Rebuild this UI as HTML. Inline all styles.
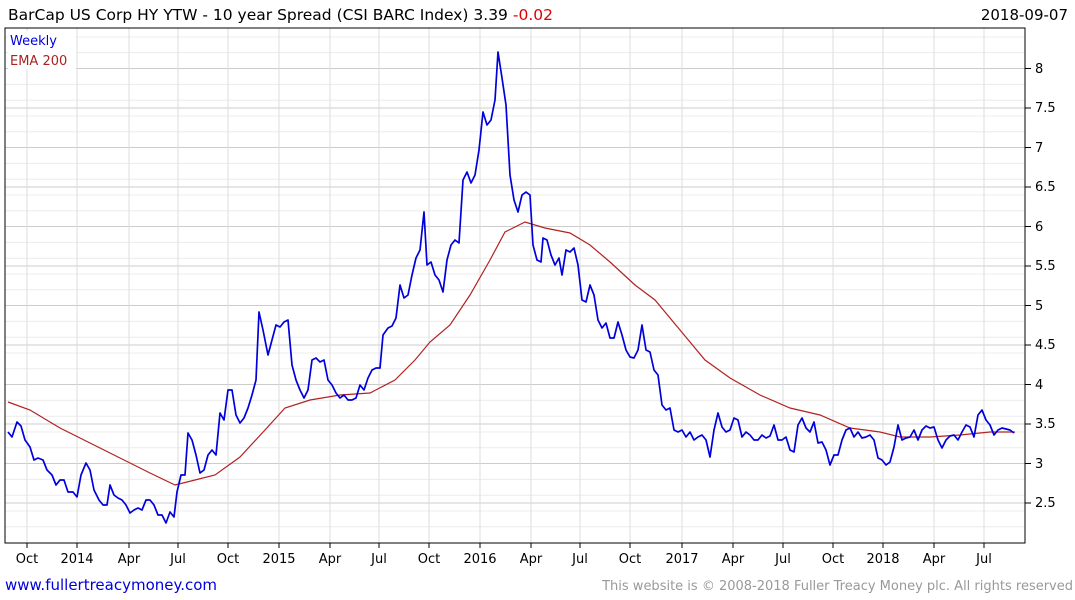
<!DOCTYPE html>
<html><head><meta charset="utf-8"><style>
html,body{margin:0;padding:0;background:#fff;width:1075px;height:600px;overflow:hidden}
svg text{font-family:"DejaVu Sans",sans-serif}
</style></head><body>
<svg width="1075" height="600" viewBox="0 0 1075 600" xmlns="http://www.w3.org/2000/svg">
<rect width="1075" height="600" fill="#fff"/>
<g stroke="#ececec" stroke-width="1">
<line x1="5" x2="1025" y1="52.6" y2="52.6"/><line x1="5" x2="1025" y1="37" y2="37"/>
<line x1="5" x2="1025" y1="84.4" y2="84.4"/><line x1="5" x2="1025" y1="100.2" y2="100.2"/><line x1="5" x2="1025" y1="116" y2="116"/><line x1="5" x2="1025" y1="131.8" y2="131.8"/>
<line x1="5" x2="1025" y1="163.4" y2="163.4"/><line x1="5" x2="1025" y1="179.2" y2="179.2"/><line x1="5" x2="1025" y1="195" y2="195"/><line x1="5" x2="1025" y1="210.8" y2="210.8"/>
<line x1="5" x2="1025" y1="242.4" y2="242.4"/><line x1="5" x2="1025" y1="258.2" y2="258.2"/><line x1="5" x2="1025" y1="274" y2="274"/><line x1="5" x2="1025" y1="289.8" y2="289.8"/>
<line x1="5" x2="1025" y1="321.4" y2="321.4"/><line x1="5" x2="1025" y1="337.2" y2="337.2"/><line x1="5" x2="1025" y1="353" y2="353"/><line x1="5" x2="1025" y1="368.8" y2="368.8"/>
<line x1="5" x2="1025" y1="400.4" y2="400.4"/><line x1="5" x2="1025" y1="416.2" y2="416.2"/><line x1="5" x2="1025" y1="432" y2="432"/><line x1="5" x2="1025" y1="447.8" y2="447.8"/>
<line x1="5" x2="1025" y1="479.4" y2="479.4"/><line x1="5" x2="1025" y1="495.2" y2="495.2"/><line x1="5" x2="1025" y1="511" y2="511"/><line x1="5" x2="1025" y1="526.8" y2="526.8"/>
</g>
<g stroke="#cccccc" stroke-width="1">
<line x1="5" x2="1025" y1="68.5" y2="68.5"/><line x1="5" x2="1025" y1="108" y2="108"/><line x1="5" x2="1025" y1="147.5" y2="147.5"/><line x1="5" x2="1025" y1="187" y2="187"/><line x1="5" x2="1025" y1="226.5" y2="226.5"/><line x1="5" x2="1025" y1="266" y2="266"/><line x1="5" x2="1025" y1="305.5" y2="305.5"/><line x1="5" x2="1025" y1="345" y2="345"/><line x1="5" x2="1025" y1="384.5" y2="384.5"/><line x1="5" x2="1025" y1="424" y2="424"/><line x1="5" x2="1025" y1="463.5" y2="463.5"/><line x1="5" x2="1025" y1="503" y2="503"/>
</g>
<g stroke="#dddddd" stroke-width="1">
<line x1="27" x2="27" y1="28" y2="543"/><line x1="77" x2="77" y1="28" y2="543"/><line x1="129" x2="129" y1="28" y2="543"/><line x1="178" x2="178" y1="28" y2="543"/><line x1="228" x2="228" y1="28" y2="543"/><line x1="279" x2="279" y1="28" y2="543"/><line x1="330" x2="330" y1="28" y2="543"/><line x1="379" x2="379" y1="28" y2="543"/><line x1="429" x2="429" y1="28" y2="543"/><line x1="480" x2="480" y1="28" y2="543"/><line x1="531" x2="531" y1="28" y2="543"/><line x1="580" x2="580" y1="28" y2="543"/><line x1="630" x2="630" y1="28" y2="543"/><line x1="682" x2="682" y1="28" y2="543"/><line x1="733" x2="733" y1="28" y2="543"/><line x1="783" x2="783" y1="28" y2="543"/><line x1="833" x2="833" y1="28" y2="543"/><line x1="883" x2="883" y1="28" y2="543"/><line x1="934" x2="934" y1="28" y2="543"/><line x1="984" x2="984" y1="28" y2="543"/>
</g>
<rect x="5" y="28" width="1020" height="515" fill="none" stroke="#000" stroke-width="1"/>
<g stroke="#000" stroke-width="1">
<line x1="1025" x2="1031" y1="68.5" y2="68.5"/><line x1="1025" x2="1031" y1="108" y2="108"/><line x1="1025" x2="1031" y1="147.5" y2="147.5"/><line x1="1025" x2="1031" y1="187" y2="187"/><line x1="1025" x2="1031" y1="226.5" y2="226.5"/><line x1="1025" x2="1031" y1="266" y2="266"/><line x1="1025" x2="1031" y1="305.5" y2="305.5"/><line x1="1025" x2="1031" y1="345" y2="345"/><line x1="1025" x2="1031" y1="384.5" y2="384.5"/><line x1="1025" x2="1031" y1="424" y2="424"/><line x1="1025" x2="1031" y1="463.5" y2="463.5"/><line x1="1025" x2="1031" y1="503" y2="503"/>
<line x1="27" x2="27" y1="543" y2="548"/><line x1="77" x2="77" y1="543" y2="548"/><line x1="129" x2="129" y1="543" y2="548"/><line x1="178" x2="178" y1="543" y2="548"/><line x1="228" x2="228" y1="543" y2="548"/><line x1="279" x2="279" y1="543" y2="548"/><line x1="330" x2="330" y1="543" y2="548"/><line x1="379" x2="379" y1="543" y2="548"/><line x1="429" x2="429" y1="543" y2="548"/><line x1="480" x2="480" y1="543" y2="548"/><line x1="531" x2="531" y1="543" y2="548"/><line x1="580" x2="580" y1="543" y2="548"/><line x1="630" x2="630" y1="543" y2="548"/><line x1="682" x2="682" y1="543" y2="548"/><line x1="733" x2="733" y1="543" y2="548"/><line x1="783" x2="783" y1="543" y2="548"/><line x1="833" x2="833" y1="543" y2="548"/><line x1="883" x2="883" y1="543" y2="548"/><line x1="934" x2="934" y1="543" y2="548"/><line x1="984" x2="984" y1="543" y2="548"/>
</g>
<g font-size="13" fill="#000">
<text x="1035" y="73">8</text><text x="1035" y="112">7.5</text><text x="1035" y="152">7</text><text x="1035" y="191">6.5</text><text x="1035" y="231">6</text><text x="1035" y="270">5.5</text><text x="1035" y="310">5</text><text x="1035" y="349">4.5</text><text x="1035" y="389">4</text><text x="1035" y="428">3.5</text><text x="1035" y="468">3</text><text x="1035" y="507">2.5</text>
</g>
<g font-size="13" fill="#000" text-anchor="middle">
<text x="27" y="563">Oct</text><text x="77" y="563">2014</text><text x="129" y="563">Apr</text><text x="178" y="563">Jul</text><text x="228" y="563">Oct</text><text x="279" y="563">2015</text><text x="330" y="563">Apr</text><text x="379" y="563">Jul</text><text x="429" y="563">Oct</text><text x="480" y="563">2016</text><text x="531" y="563">Apr</text><text x="580" y="563">Jul</text><text x="630" y="563">Oct</text><text x="682" y="563">2017</text><text x="733" y="563">Apr</text><text x="783" y="563">Jul</text><text x="833" y="563">Oct</text><text x="883" y="563">2018</text><text x="934" y="563">Apr</text><text x="984" y="563">Jul</text>
</g>
<text x="8" y="20" font-size="15.5" fill="#000">BarCap US Corp HY YTW - 10 year Spread (CSI BARC Index) 3.39 <tspan fill="#e00000">-0.02</tspan></text>
<text x="1068" y="20" font-size="15" fill="#000" text-anchor="end">2018-09-07</text>
<rect x="8" y="31" width="68" height="38" fill="#fff"/>
<text x="10" y="45" font-size="13" fill="#0000dd">Weekly</text>
<text x="10" y="65" font-size="13" fill="#aa2222">EMA 200</text>
<polyline fill="none" stroke="#b22222" stroke-width="1.2" points="8,402 30,410 60,428 90,443 120,458 150,473 175,485 195,480 215,475 240,457 265,430 285,408 310,400 340,395 370,393 395,380 415,360 430,342 450,325 470,295 490,260 505,232 525,222 545,228 570,233 590,245 610,262 635,285 655,300 680,330 705,360 730,378 760,395 790,408 820,415 850,428 880,432 900,437 930,437 960,435 990,432 1015,432"/>
<polyline fill="none" stroke="#0000dd" stroke-width="1.7" stroke-linejoin="round" points="8,432 12,437 17,422 21,426 25,440 30,447 34,460 38,458 43,460 47,470 52,475 56,485 60,480 64,480 68,492 73,492 77,497 81,475 86,463 90,470 94,490 99,500 103,505 107,505 110,485 114,495 118,498 122,500 126,505 130,513 134,510 138,508 142,510 146,500 150,500 154,505 158,515 162,515 166,523 170,512 174,517 177,492 181,475 185,475 188,433 192,440 196,455 200,473 204,470 208,455 212,450 216,455 220,413 224,420 228,390 232,390 236,415 240,423 244,418 248,408 252,395 256,380 259,312 263,330 268,355 272,340 276,325 280,327 284,322 288,320 292,365 296,380 300,390 304,398 308,390 312,360 316,358 320,362 324,360 328,380 332,385 336,393 340,398 344,395 348,400 352,400 356,398 360,385 364,390 368,378 372,370 376,368 380,368 383,335 388,328 392,326 396,318 400,285 404,298 408,295 412,275 416,258 420,250 424,212 427,265 431,262 435,275 439,280 443,292 447,260 451,245 455,240 459,243 463,180 467,172 471,183 475,175 479,150 483,112 487,125 491,120 495,100 498,52 502,78 506,105 510,175 514,200 518,212 522,195 526,192 530,195 533,245 537,260 541,262 543,238 547,240 551,255 555,265 559,258 562,275 566,250 570,252 574,248 578,265 582,300 586,302 590,285 594,295 598,320 602,328 606,323 610,338 614,338 618,322 622,335 626,350 630,357 634,358 638,350 642,325 646,350 650,352 654,370 658,375 662,405 666,410 670,408 674,430 678,432 682,430 686,437 690,432 694,440 698,437 702,435 706,440 710,457 714,430 718,413 722,427 726,432 730,430 734,418 738,420 742,437 746,432 750,435 754,440 758,440 762,435 766,438 770,436 774,425 778,440 782,440 786,437 790,450 794,452 798,425 802,418 806,428 810,432 814,422 818,443 822,442 826,450 830,465 834,455 838,455 842,440 846,430 850,428 854,437 858,432 862,438 866,437 870,435 874,440 878,458 882,460 886,465 890,462 894,447 898,425 902,440 906,438 910,437 914,430 918,440 922,430 926,426 930,428 934,427 938,440 942,448 946,440 950,436 954,435 958,440 962,432 966,425 970,427 974,437 978,415 982,410 986,420 990,425 994,435 998,430 1002,428 1006,429 1010,430 1014,433"/>
<text x="5" y="590" font-size="15" fill="#0000dd">www.fullertreacymoney.com</text>
<text x="1073" y="590" font-size="13" fill="#999" text-anchor="end">This website is © 2008-2018 Fuller Treacy Money plc. All rights reserved</text>
</svg>
</body></html>
